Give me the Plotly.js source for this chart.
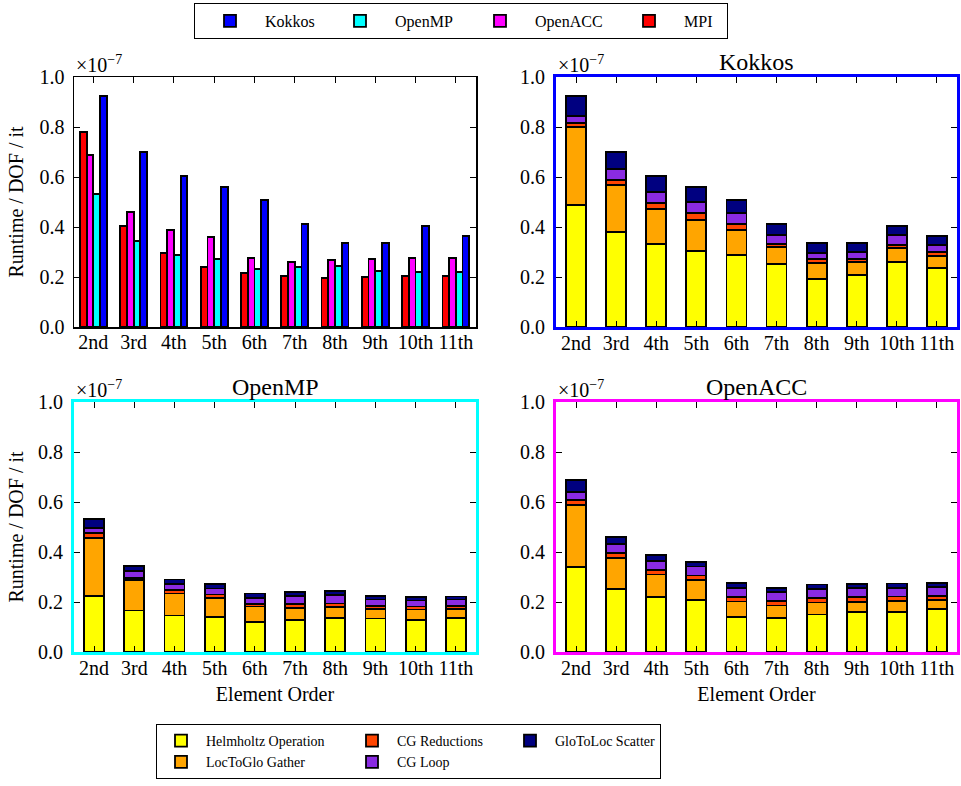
<!DOCTYPE html>
<html>
<head>
<meta charset="utf-8">
<script src="https://cdn.plot.ly/plotly-3.0.1.min.js"></script>
<style>html,body{margin:0;padding:0;background:#fff;}#chart{width:961px;height:786px;}</style>
</head>
<body>
<div id="chart"></div>
<script>
// ---- data (values in units of 1e-7 s) ----
const categories = ['2nd','3rd','4th','5th','6th','7th','8th','9th','10th','11th'];

// total runtime per DOF per iteration
const mpi     = [0.780,0.403,0.297,0.240,0.215,0.205,0.196,0.201,0.203,0.204];
const openacc = [0.687,0.459,0.388,0.360,0.275,0.259,0.269,0.271,0.275,0.276];
const openmp  = [0.532,0.344,0.289,0.271,0.233,0.239,0.243,0.224,0.219,0.221];
const kokkos  = [0.925,0.701,0.605,0.560,0.509,0.411,0.336,0.337,0.403,0.365];

// breakdown: Kokkos
const kokkosHelmholtz  = [0.487,0.379,0.332,0.303,0.289,0.252,0.192,0.207,0.259,0.236];
const kokkosGather     = [0.312,0.189,0.140,0.126,0.100,0.067,0.064,0.052,0.056,0.047];
const kokkosReductions = [0.016,0.021,0.025,0.027,0.024,0.013,0.016,0.014,0.014,0.018];
const kokkosLoop       = [0.030,0.043,0.043,0.044,0.044,0.037,0.023,0.026,0.039,0.028];
const kokkosScatter    = [0.080,0.069,0.065,0.060,0.052,0.042,0.041,0.038,0.035,0.036];

// breakdown: OpenMP
const openmpHelmholtz  = [0.223,0.166,0.146,0.139,0.119,0.128,0.136,0.134,0.127,0.136];
const openmpGather     = [0.233,0.121,0.088,0.078,0.063,0.048,0.043,0.038,0.043,0.036];
const openmpReductions = [0.019,0.010,0.013,0.013,0.011,0.017,0.015,0.012,0.012,0.012];
const openmpLoop       = [0.021,0.027,0.024,0.024,0.024,0.030,0.033,0.026,0.024,0.026];
const openmpScatter    = [0.037,0.021,0.019,0.017,0.017,0.018,0.016,0.015,0.015,0.012];

// breakdown: OpenACC
const openaccHelmholtz  = [0.341,0.251,0.219,0.209,0.140,0.136,0.150,0.159,0.159,0.171];
const openaccGather     = [0.247,0.126,0.091,0.078,0.062,0.050,0.048,0.041,0.046,0.036];
const openaccReductions = [0.019,0.019,0.019,0.019,0.019,0.019,0.019,0.019,0.017,0.018];
const openaccLoop       = [0.033,0.036,0.036,0.036,0.036,0.036,0.036,0.036,0.033,0.034];
const openaccScatter    = [0.048,0.029,0.024,0.019,0.020,0.016,0.017,0.018,0.019,0.018];

const componentNames = ['Helmholtz Operation','LocToGlo Gather','CG Reductions','CG Loop','GloToLoc Scatter'];

// ---- styling ----
const FONT = '"Liberation Serif", "Times New Roman", serif';
const idx = categories.map((_, i) => i);
const barLine = {color: '#000', width: 1.8};

const traces = [];

// grouped panel (top-left)
const groupSeries = [
  {name: 'Kokkos',  y: kokkos,  color: '#0000ff', off:  0.25,   lw: 55},
  {name: 'OpenMP',  y: openmp,  color: '#00ffff', off:  0.0833, lw: 65},
  {name: 'OpenACC', y: openacc, color: '#ff00ff', off: -0.0833, lw: 74},
  {name: 'MPI',     y: mpi,     color: '#ff0000', off: -0.25,   lw: 38}
];
groupSeries.forEach(s => {
  traces.push({
    type: 'bar', name: s.name, legend: 'legend',
    x: idx.map(i => i + s.off), y: s.y, width: 0.1667,
    marker: {color: s.color, line: barLine},
    xaxis: 'x', yaxis: 'y', legendwidth: s.lw, hoverinfo: 'y'
  });
});

// stacked panels
const compColors = ['#ffff00','#ffa500','#ff4500','#8a2be2','#000080'];
const compGroups = ['g1','g1','g2','g2','g3'];
const compWidths = [136, 136, 103, 103, 100];
const stackPanels = [
  {ax: '2', data: [kokkosHelmholtz, kokkosGather, kokkosReductions, kokkosLoop, kokkosScatter], legend: true},
  {ax: '3', data: [openmpHelmholtz, openmpGather, openmpReductions, openmpLoop, openmpScatter], legend: false},
  {ax: '4', data: [openaccHelmholtz, openaccGather, openaccReductions, openaccLoop, openaccScatter], legend: false}
];
stackPanels.forEach(p => {
  p.data.forEach((vals, k) => {
    traces.push({
      type: 'bar', name: componentNames[k], legend: 'legend2',
      legendgroup: compGroups[k], showlegend: p.legend,
      legendwidth: compWidths[k],
      x: idx, y: vals, width: 0.5,
      marker: {color: compColors[k], line: barLine},
      xaxis: 'x' + p.ax, yaxis: 'y' + p.ax, hoverinfo: 'y'
    });
  });
});

const tickFont = {family: FONT, size: 20, color: '#000'};
function xax(domain, anchor, frame, fw, title) {
  const a = {
    domain: domain, anchor: anchor, range: [-0.5, 9.5],
    tickmode: 'array', tickvals: idx, ticktext: categories,
    ticks: 'inside', ticklen: 6, tickwidth: 1, tickcolor: '#000',
    showline: true, linecolor: frame, linewidth: fw, mirror: 'ticks',
    showgrid: false, zeroline: false, tickfont: tickFont, ticklabelstandoff: -4
  };
  if (title) a.title = {text: title, font: {family: FONT, size: 20, color: '#000'}, standoff: 9};
  return a;
}
function yax(domain, anchor, frame, fw, title) {
  const a = {
    domain: domain, anchor: anchor, range: [0, 1.0],
    tickvals: [0, 0.2, 0.4, 0.6, 0.8, 1.0], tickformat: '.1f',
    ticks: 'inside', ticklen: 6, tickwidth: 1, tickcolor: '#000',
    showline: true, linecolor: frame, linewidth: fw, mirror: 'ticks',
    showgrid: false, zeroline: false, tickfont: tickFont, ticklabelstandoff: 4
  };
  if (title) a.title = {text: title, font: {family: FONT, size: 20, color: '#000'}, standoff: 10};
  return a;
}

const xL = [74/961, 476/961], xR = [556/961, 957/961];
const yT = [1 - 327/786, 1 - 77/786], yB = [1 - 652/786, 1 - 402/786];

const xa1 = xax(xL, 'y', '#000', 1.5);
xa1.range = [-0.48, 9.5];

const expText = '×10<sup>−7</sup>';
const annFont = {family: FONT, size: 20, color: '#000'};
const titleFont = {family: FONT, size: 24, color: '#000'};
function expAnn(x, y) {
  return {text: expText, xref: 'paper', yref: 'paper', x: x, y: y, xanchor: 'left', yanchor: 'bottom',
          showarrow: false, font: annFont, xshift: 0, yshift: -1};
}
function titleAnn(text, x, y) {
  return {text: text, xref: 'paper', yref: 'paper', x: x, y: y, xanchor: 'center', yanchor: 'bottom',
          showarrow: false, font: titleFont, yshift: 0};
}

const layout = {
  width: 961, height: 786,
  margin: {l: 0, r: 0, t: 0, b: 0},
  paper_bgcolor: '#fff', plot_bgcolor: '#fff',
  barmode: 'stack',
  font: {family: FONT, color: '#000'},
  showlegend: true,
  xaxis: xa1,
  yaxis: yax(yT, 'x', '#000', 1.5, 'Runtime / DOF / it'),
  xaxis2: xax(xR, 'y2', '#0000ff', 3),
  yaxis2: yax(yT, 'x2', '#0000ff', 3),
  xaxis3: xax(xL, 'y3', '#00ffff', 3, 'Element Order'),
  yaxis3: yax(yB, 'x3', '#00ffff', 3, 'Runtime / DOF / it'),
  xaxis4: xax(xR, 'y4', '#ff00ff', 3, 'Element Order'),
  yaxis4: yax(yB, 'x4', '#ff00ff', 3),
  legend: {
    orientation: 'h', traceorder: 'normal', x: 194/961, xanchor: 'left', y: 1 - 3/786, yanchor: 'top',
    bordercolor: '#000', borderwidth: 1, bgcolor: '#fff',
    font: {family: FONT, size: 16, color: '#000'}, itemwidth: 60
  },
  legend2: {
    orientation: 'h', traceorder: 'grouped', x: 156/961, xanchor: 'left', y: 1 - 724/786, yanchor: 'top',
    bordercolor: '#000', borderwidth: 1, bgcolor: '#fff',
    font: {family: FONT, size: 14, color: '#000'}, itemwidth: 40, tracegroupgap: 0
  },
  annotations: [
    expAnn(xL[0], yT[1]), expAnn(xR[0], yT[1]), expAnn(xL[0], yB[1]), expAnn(xR[0], yB[1]),
    titleAnn('Kokkos', (xR[0] + xR[1]) / 2, yT[1]),
    titleAnn('OpenMP', (xL[0] + xL[1]) / 2, yB[1]),
    titleAnn('OpenACC', (xR[0] + xR[1]) / 2, yB[1])
  ]
};

Plotly.newPlot('chart', traces, layout, {displayModeBar: false, staticPlot: true});
</script>
</body>
</html>
